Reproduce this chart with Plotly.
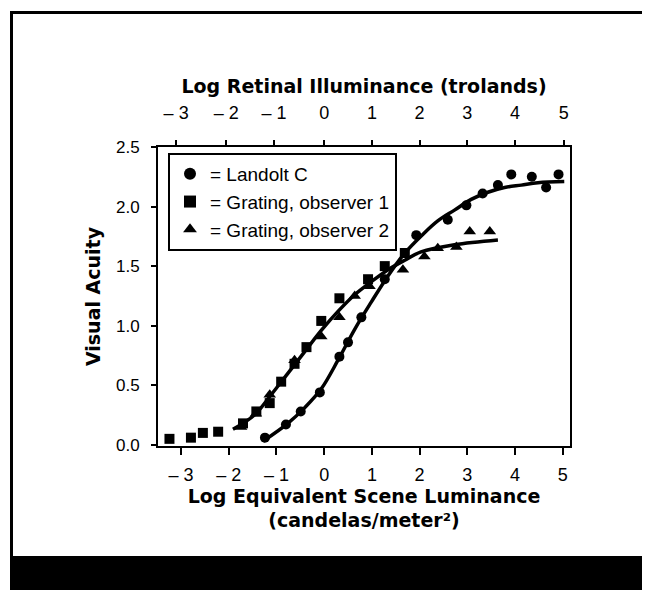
import plotly.graph_objects as go

# ---------------- data ----------------
landolt_x = [-1.24, -0.80, -0.49, -0.09, 0.32, 0.50, 0.78, 1.27, 1.93, 2.59, 2.98, 3.32, 3.64, 3.92, 4.35, 4.65, 4.91]
landolt_y = [0.06, 0.17, 0.28, 0.44, 0.74, 0.86, 1.07, 1.39, 1.76, 1.89, 2.01, 2.11, 2.18, 2.27, 2.25, 2.16, 2.27]

grating1_x = [-3.24, -2.79, -2.54, -2.22, -1.70, -1.42, -1.14, -0.90, -0.62, -0.37, -0.06, 0.32, 0.92, 1.27, 1.69]
grating1_y = [0.05, 0.06, 0.10, 0.11, 0.18, 0.28, 0.35, 0.53, 0.68, 0.82, 1.04, 1.23, 1.39, 1.50, 1.61]

grating2_x = [-1.74, -1.43, -1.14, -0.62, -0.06, 0.32, 0.64, 0.95, 1.65, 2.10, 2.38, 2.77, 3.05, 3.47]
grating2_y = [0.15, 0.26, 0.42, 0.71, 0.91, 1.07, 1.25, 1.33, 1.47, 1.58, 1.65, 1.66, 1.79, 1.79]

# fitted curves
landolt_fit_x = [-1.28, -0.76, -0.41, -0.06, 0.29, 0.64, 0.99, 1.34, 1.69, 2.05, 2.38, 2.73, 3.08, 3.43, 3.78, 4.13, 4.48, 5.03]
landolt_fit_y = [0.03, 0.18, 0.31, 0.47, 0.71, 0.97, 1.20, 1.42, 1.61, 1.76, 1.88, 1.97, 2.06, 2.12, 2.16, 2.18, 2.20, 2.21]

grating_fit_x = [-1.91, -1.46, -1.11, -0.76, -0.41, -0.06, 0.29, 0.64, 0.99, 1.34, 1.69, 2.03, 2.73, 3.64]
grating_fit_y = [0.13, 0.25, 0.42, 0.60, 0.78, 0.96, 1.12, 1.26, 1.37, 1.47, 1.55, 1.62, 1.68, 1.72]

# axis ticks
bottom_tickvals = [-3, -2, -1, 0, 1, 2, 3, 4, 5]
bottom_ticktext = ["\u2013 3", "\u2013 2", "\u2013 1", "0", "1", "2", "3", "4", "5"]
top_tickvals = [-3.1, -2.05, -1.05, 0.0, 1.0, 2.0, 3.0, 4.0, 5.02]
top_ticktext = ["\u2013 3", "\u2013 2", "\u2013 1", "0", "1", "2", "3", "4", "5"]
y_tickvals = [0, 0.5, 1.0, 1.5, 2.0, 2.5]
y_ticktext = ["0.0", "0.5", "1.0", "1.5", "2.0", "2.5"]

# ---------------- layout geometry ----------------
W, H = 650, 594
ML, MR, MT, MB = 150, 88, 139, 156
PW, PH = W - ML - MR, H - MT - MB


def fx(px):
    return (px - ML) / PW


def fy(py):
    return (H - MB - py) / PH


FONT = "Liberation Sans, Arial, Helvetica, sans-serif"
TITLE_FONT = dict(family="DejaVu Sans, Liberation Sans, sans-serif", size=19, color="#000000", weight="bold")
BLACK = "#000000"

fig = go.Figure()

fig.add_trace(go.Scatter(x=landolt_fit_x, y=landolt_fit_y, mode="lines",
                         line=dict(color=BLACK, width=3.5, shape="spline", smoothing=1.0),
                         showlegend=False, hoverinfo="skip"))
fig.add_trace(go.Scatter(x=grating_fit_x, y=grating_fit_y, mode="lines",
                         line=dict(color=BLACK, width=3.5, shape="spline", smoothing=1.0),
                         showlegend=False, hoverinfo="skip"))

fig.add_trace(go.Scatter(x=landolt_x, y=landolt_y, mode="markers", name="= Landolt C",
                         marker=dict(symbol="circle", size=10, color=BLACK)))
fig.add_trace(go.Scatter(x=grating1_x, y=grating1_y, mode="markers", name="= Grating, observer 1",
                         marker=dict(symbol="square", size=10, color=BLACK)))
fig.add_trace(go.Scatter(x=grating2_x, y=grating2_y, mode="markers", name="= Grating, observer 2",
                         marker=dict(symbol="triangle-up", size=11, color=BLACK)))

# invisible trace to anchor the top axis
fig.add_trace(go.Scatter(x=[], y=[], xaxis="x2", showlegend=False, hoverinfo="skip"))

XR = [-3.48, 5.15]

fig.update_layout(
    width=W, height=H,
    margin=dict(l=ML, r=MR, t=MT, b=MB, pad=0),
    paper_bgcolor="white", plot_bgcolor="white",
    font=dict(family=FONT, color=BLACK, size=16),
    xaxis=dict(
        range=XR, tickvals=bottom_tickvals, ticktext=bottom_ticktext,
        showgrid=False, zeroline=False, showline=True, linecolor=BLACK, linewidth=2,
        ticks="outside", ticklen=7, tickwidth=2, tickcolor=BLACK,
        tickfont=dict(size=18), ticklabelstandoff=4,
        title=dict(text="Log Equivalent Scene Luminance<br>(candelas/meter\u00b2)",
                   font=TITLE_FONT, standoff=3),
    ),
    xaxis2=dict(
        range=XR, overlaying="x", side="top", anchor="y",
        tickvals=top_tickvals, ticktext=top_ticktext,
        showgrid=False, zeroline=False, showline=True, linecolor=BLACK, linewidth=2,
        ticks="outside", ticklen=5, tickwidth=2, tickcolor=BLACK,
        tickfont=dict(size=18), ticklabelstandoff=14,
        title=dict(text="Log Retinal Illuminance (trolands)", font=TITLE_FONT, standoff=4),
    ),
    yaxis=dict(
        range=[-0.01, 2.5], tickvals=y_tickvals, ticktext=y_ticktext,
        showgrid=False, zeroline=False, showline=True, linecolor=BLACK, linewidth=2, mirror=True,
        ticks="outside", ticklen=5, tickwidth=2, tickcolor=BLACK,
        tickfont=dict(size=17), ticklabelstandoff=8,
        title=dict(text="Visual Acuity", font=TITLE_FONT, standoff=10),
    ),
    legend=dict(
        x=fx(160), y=fy(145), xanchor="left", yanchor="top",
        bgcolor="white", bordercolor=BLACK, borderwidth=2,
        font=dict(size=19, color=BLACK), itemsizing="constant",
        tracegroupgap=0,
    ),
    showlegend=True,
)

# scan frame around the figure
frame = [
    dict(x0=fx(2), x1=fx(648), y0=fy(3), y1=fy(6)),      # top line
    dict(x0=fx(2), x1=fx(5), y0=fy(3), y1=fy(550)),      # left line
    dict(x0=fx(641), x1=fx(646), y0=fy(3), y1=fy(550)),  # right line
    dict(x0=fx(2), x1=fx(650), y0=fy(548), y1=fy(582)),  # bottom band
]
for r in frame:
    fig.add_shape(type="rect", xref="paper", yref="paper", line=dict(width=0),
                  fillcolor=BLACK, layer="above", **r)

fig.write_html("out.html")
